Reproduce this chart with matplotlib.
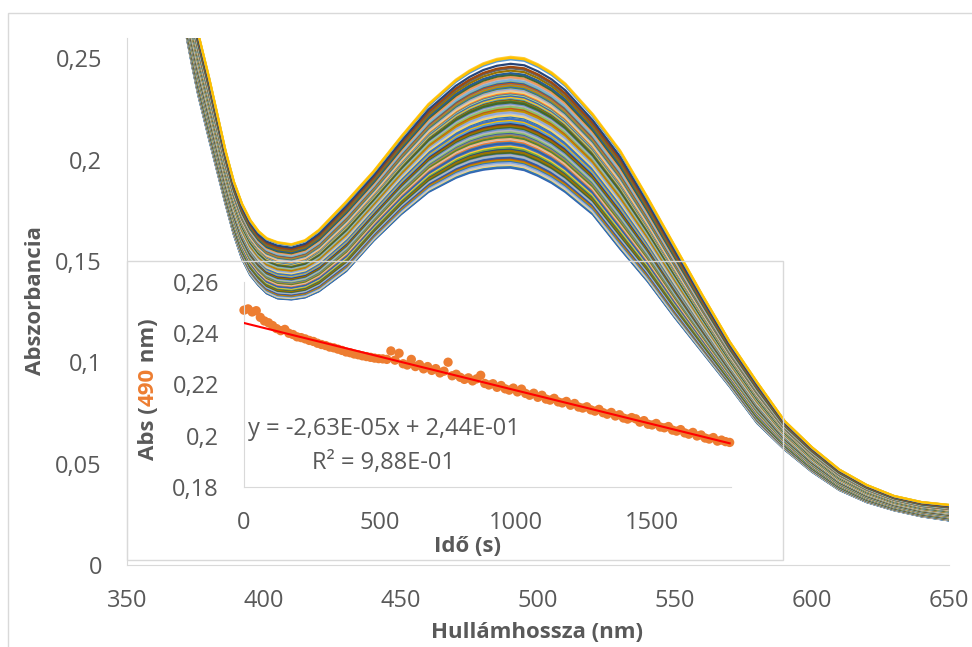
import numpy as np
import matplotlib.pyplot as plt
from matplotlib.patches import Rectangle

plt.rcParams['font.family'] = ['Open Sans', 'DejaVu Sans']

wavelength = [366, 368, 370, 372, 374, 376, 378, 380, 383, 386, 389, 392, 395, 398,
              401, 405, 410, 415, 420, 430, 440, 450, 460, 470, 475, 480, 485, 490,
              495, 500, 505, 510, 520, 530, 540, 550, 560, 570, 580, 590, 600, 610,
              620, 630, 640, 650]
abs_first = [0.332, 0.316, 0.301, 0.287, 0.274, 0.262, 0.251, 0.240, 0.222, 0.204,
             0.189, 0.178, 0.170, 0.1645, 0.161, 0.159, 0.158, 0.160, 0.165, 0.179,
             0.194, 0.211, 0.227, 0.239, 0.2435, 0.247, 0.2492, 0.2502, 0.2495, 0.2465,
             0.2425, 0.237, 0.222, 0.204, 0.181, 0.157, 0.133, 0.110, 0.090, 0.071,
             0.058, 0.047, 0.0394, 0.034, 0.031, 0.0296]
abs_last = [0.310, 0.292, 0.275, 0.259, 0.245, 0.232, 0.221, 0.210, 0.194, 0.178,
            0.163, 0.151, 0.143, 0.138, 0.134, 0.1315, 0.131, 0.132, 0.135, 0.145,
            0.160, 0.173, 0.184, 0.191, 0.1935, 0.195, 0.1958, 0.196, 0.1948, 0.192,
            0.1885, 0.184, 0.173, 0.156, 0.140, 0.122, 0.105, 0.088, 0.070, 0.057,
            0.046, 0.037, 0.031, 0.027, 0.024, 0.022]

# inset: absorbance at 490 nm vs time
time_s = [0, 15, 30, 45, 60, 75, 90, 105, 120, 135, 150, 165,
          180, 195, 210, 225, 240, 255, 270, 285, 300, 315, 330, 345,
          360, 375, 390, 405, 420, 435, 450, 465, 480, 495, 510, 525,
          540, 555, 570, 585, 600, 615, 630, 645, 660, 675, 690, 705,
          720, 735, 750, 765, 780, 795, 810, 825, 840, 855, 870, 885,
          900, 915, 930, 945, 960, 975, 990, 1005, 1020, 1035, 1050, 1065,
          1080, 1095, 1110, 1125, 1140, 1155, 1170, 1185, 1200, 1215, 1230, 1245,
          1260, 1275, 1290, 1305, 1320, 1335, 1350, 1365, 1380, 1395, 1410, 1425,
          1440, 1455, 1470, 1485, 1500, 1515, 1530, 1545, 1560, 1575, 1590, 1605,
          1620, 1635, 1650, 1665, 1680, 1695, 1710, 1725, 1740, 1755, 1770, 1785]
abs_490 = [0.2490, 0.2495, 0.2483, 0.2488, 0.2462, 0.2448, 0.2441, 0.2430, 0.2418, 0.2410,
           0.2415, 0.2400, 0.2395, 0.2386, 0.2383, 0.2378, 0.2372, 0.2368, 0.2361, 0.2356,
           0.2352, 0.2346, 0.2343, 0.2338, 0.2333, 0.2327, 0.2324, 0.2319, 0.2316, 0.2312,
           0.2309, 0.2306, 0.2303, 0.2301, 0.2300, 0.2298, 0.2331, 0.2295, 0.2322, 0.2281,
           0.2276, 0.2298, 0.2270, 0.2278, 0.2261, 0.2270, 0.2255, 0.2262, 0.2245, 0.2252,
           0.2287, 0.2234, 0.2240, 0.2228, 0.2220, 0.2226, 0.2214, 0.2222, 0.2236, 0.2204,
           0.2198, 0.2203, 0.2189, 0.2196, 0.2183, 0.2178, 0.2186, 0.2171, 0.2182, 0.2165,
           0.2158, 0.2166, 0.2150, 0.2158, 0.2143, 0.2139, 0.2146, 0.2132, 0.2128, 0.2134,
           0.2119, 0.2126, 0.2112, 0.2108, 0.2113, 0.2101, 0.2096, 0.2103, 0.2090, 0.2084,
           0.2091, 0.2077, 0.2082, 0.2069, 0.2065, 0.2071, 0.2066, 0.2053, 0.2059, 0.2045,
           0.2042, 0.2048, 0.2034, 0.2031, 0.2036, 0.2022, 0.2018, 0.2024, 0.2011, 0.2006,
           0.2013, 0.1999, 0.2003, 0.1991, 0.1987, 0.1993, 0.1979, 0.1983, 0.1977, 0.1974]
slope = -2.63e-05
intercept = 2.44e-01

main_xticks = [350, 400, 450, 500, 550, 600, 650]
main_yticks = [0, 0.05, 0.1, 0.15, 0.2, 0.25]
inset_xticks = [0, 500, 1000, 1500]
inset_yticks = [0.18, 0.2, 0.22, 0.24, 0.26]

palette = ['#FFC000', '#FFCD33', '#5B9BD5', '#70AD47', '#264478', '#9E480E',
           '#636363', '#997300', '#255E91', '#43682B', '#698ED0', '#F1975A',
           '#B7B7B7', '#7CAFDD', '#8CC168', '#335AA1', '#C55A11', '#848484',
           '#BF9000', '#2E75B6', '#548235', '#8FAADC', '#F4B183', '#C9C9C9',
           '#FFD966', '#ED7D31', '#2E75B6', '#A9D18E', '#335AA1', '#4472C4']

grey = '#595959'
line_grey = '#D9D9D9'
orange = '#ED7D31'
W, H = 972, 647


def comma(v, _=None):
    return f'{v:g}'.replace('.', ',')


def fx(px):
    return px / W


def fy(py):
    return 1 - py / H


fig = plt.figure(figsize=(W / 100, H / 100), dpi=100)

# chart border
fig.patches.append(Rectangle((fx(8), -0.05), 1.1, fy(13) + 0.05, transform=fig.transFigure,
                             fill=False, ec=line_grey, lw=1))

ax = fig.add_axes([fx(127), fy(565), fx(949) - fx(127), fy(38) - fy(565)])
wl = np.array(wavelength)
first = np.array(abs_first)
last = np.array(abs_last)
# later spectra underneath, the first one on top
for i in reversed(range(len(abs_490))):
    w = (abs_490[0] - abs_490[i]) / (abs_490[0] - abs_490[-1])
    ax.plot(wl, first + w * (last - first), color=palette[i % len(palette)], lw=1.6,
            solid_joinstyle='round')
ax.set_xlim(350, 650)
ax.set_ylim(0, 0.26)
ax.set_xticks(main_xticks)
ax.set_yticks(main_yticks)
ax.xaxis.set_major_formatter(plt.FuncFormatter(comma))
ax.yaxis.set_major_formatter(plt.FuncFormatter(comma))
ax.tick_params(length=0, labelsize=17, labelcolor=grey)
ax.tick_params(axis='y', pad=18)
ax.tick_params(axis='x', pad=17)
for s in ['top', 'right']:
    ax.spines[s].set_visible(False)
for s in ['left', 'bottom']:
    ax.spines[s].set_color(line_grey)

fig.text(fx(36), fy(301), 'Abszorbancia', rotation=90, ha='center', va='center',
         fontsize=16, weight='bold', color=grey)
fig.text(fx(537), fy(633), 'Hullámhossza (nm)', ha='center', va='center',
         fontsize=16, weight='bold', color=grey)

# inset chart area
fig.patches.append(Rectangle((fx(127), fy(560)), fx(783) - fx(127), fy(261) - fy(560),
                             transform=fig.transFigure, fill=False, ec=line_grey, lw=1))

ax2 = fig.add_axes([fx(244), fy(487), fx(731) - fx(244), fy(282) - fy(487)])
ax2.set_facecolor('none')
ax2.scatter(time_s, abs_490, s=45, color=orange, edgecolors='none', clip_on=False, zorder=2)
t_fit = np.array([time_s[0], time_s[-1]])
ax2.plot(t_fit, intercept + slope * t_fit, color='#FF0000', lw=1.5, zorder=3)
ax2.set_xlim(0, 1790)
ax2.set_ylim(0.18, 0.26)
ax2.set_xticks(inset_xticks)
ax2.set_yticks(inset_yticks)
ax2.xaxis.set_major_formatter(plt.FuncFormatter(comma))
ax2.yaxis.set_major_formatter(plt.FuncFormatter(comma))
ax2.tick_params(length=0, labelsize=17, labelcolor=grey)
ax2.tick_params(axis='y', pad=18)
ax2.tick_params(axis='x', pad=17)
for s in ['top', 'right']:
    ax2.spines[s].set_visible(False)
for s in ['left', 'bottom']:
    ax2.spines[s].set_color(line_grey)

fig.text(fx(467), fy(546), 'Idő (s)', ha='center', va='center',
         fontsize=16, weight='bold', color=grey)
fig.text(fx(384), fy(429), 'y = -2,63E-05x + 2,44E-01', ha='center', va='center',
         fontsize=17, color=grey)
fig.text(fx(384), fy(463), 'R² = 9,88E-01', ha='center', va='center',
         fontsize=17, color=grey)

# inset y label with coloured wavelength
renderer = fig.canvas.get_renderer()
parts = [('Abs (', grey), ('490', orange), (' nm)', grey)]
texts = [fig.text(0, 0, s, rotation=90, ha='center', va='bottom', fontsize=16,
                  weight='bold', color=c) for s, c in parts]
heights = [t.get_window_extent(renderer).height for t in texts]
y0 = (H - 389) - sum(heights) / 2
for t, h in zip(texts, heights):
    t.set_position((fx(148), y0 / H))
    y0 += h

fig.savefig('out.png', dpi=100)
